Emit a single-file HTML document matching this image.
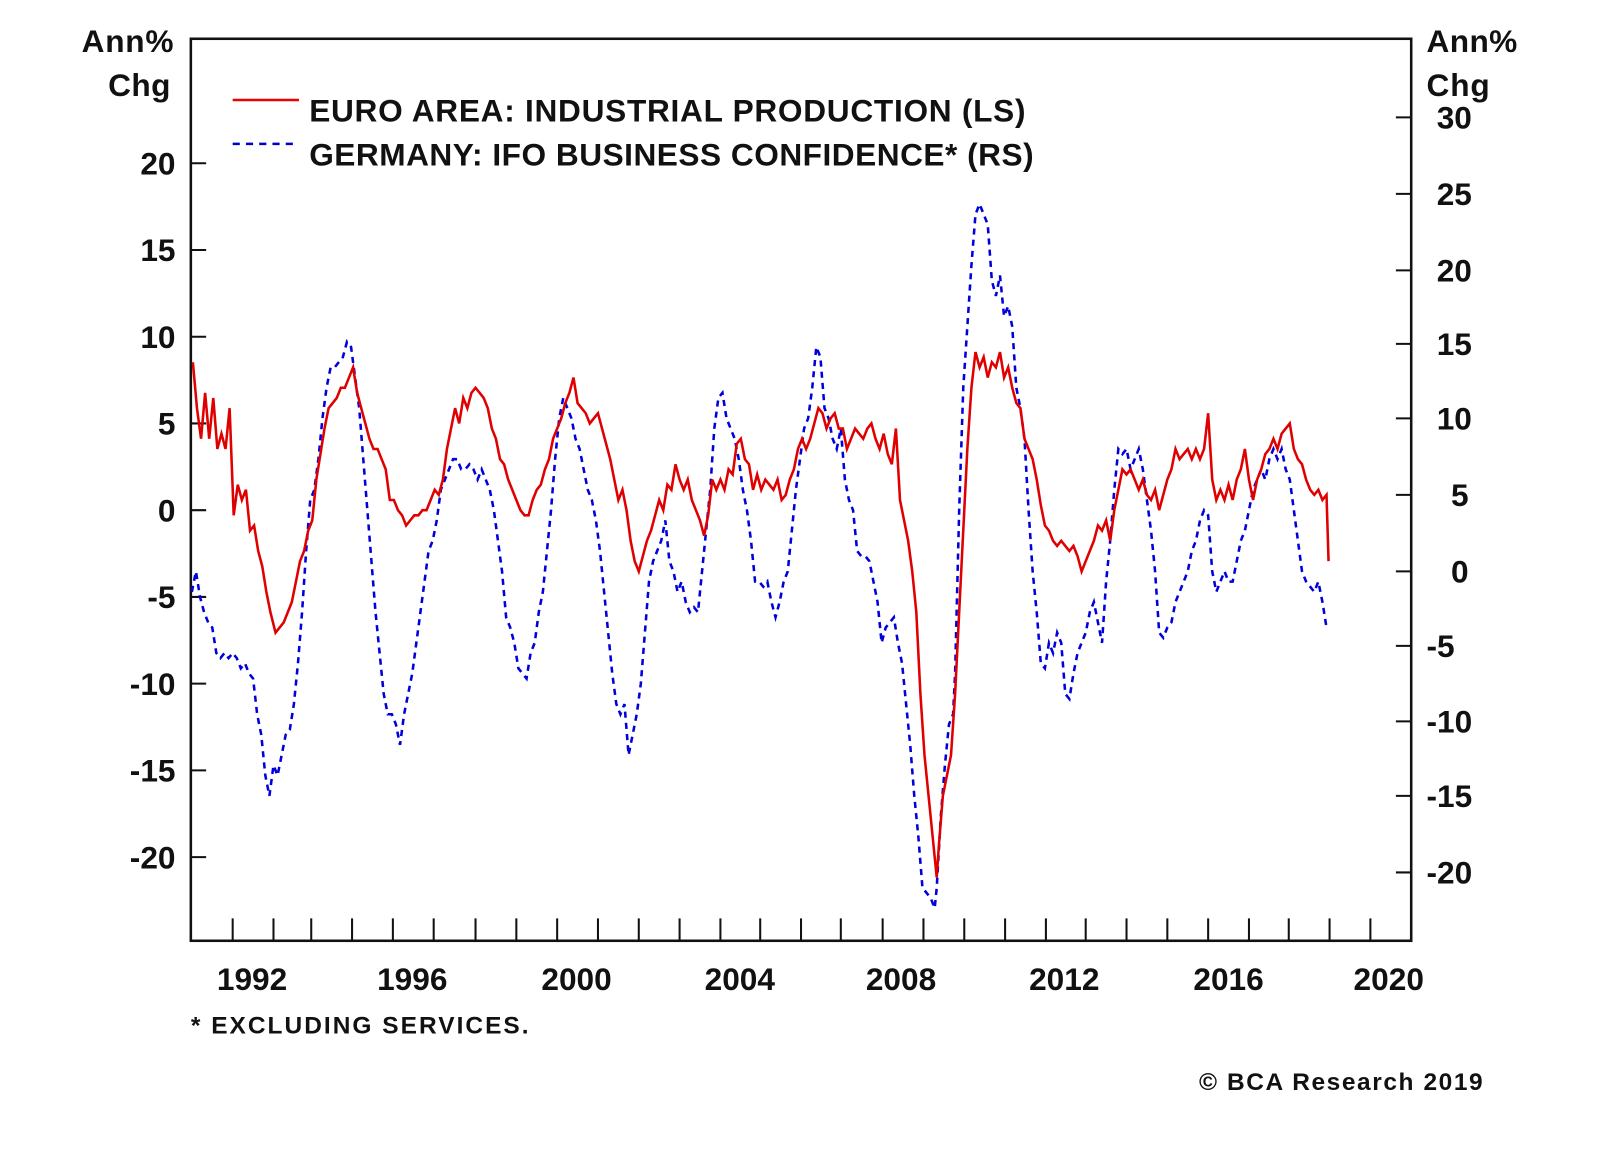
<!DOCTYPE html>
<html><head><meta charset="utf-8"><style>
html,body{margin:0;padding:0;background:#fff;}
svg{display:block;}
text{font-family:"Liberation Sans Narrow","Liberation Sans",sans-serif;font-weight:bold;fill:#111;}
</style></head><body>
<svg width="1600" height="1152" viewBox="0 0 1568 1129" xmlns="http://www.w3.org/2000/svg">
<rect width="1568" height="1129" fill="#fff"/>
<!-- frame -->
<rect x="187" y="38" width="1196" height="884" fill="none" stroke="#111" stroke-width="2.5"/>
<g stroke="#111" stroke-width="2">
<path d="M228 922V900M268 922V900M305 922V900M345 922V900M385 922V900M425 922V900M466 922V900M506 922V900M546 922V900M586 922V900M626 922V900M666 922V900M706 922V900M745 922V900M785 922V900M824 922V900M865 922V900M905 922V900M945 922V900M985 922V900M1025 922V900M1064 922V900M1104 922V900M1144 922V900M1184 922V900M1224 922V900M1263 922V900M1303 922V900M1343 922V900"/>
<path d="M187 160H202M187 245H202M187 330H202M187 415H202M187 500H202M187 585H202M187 670H202M187 755H202M187 840H202"/>
<path d="M1368 115H1383M1368 190H1383M1368 265H1383M1368 337H1383M1368 410H1383M1368 485H1383M1368 560H1383M1368 633H1383M1368 707H1383M1368 780H1383M1368 855H1383"/>
</g>
<g font-size="31" text-anchor="end">
<text x="172" y="171">20</text><text x="172" y="256">15</text><text x="172" y="341">10</text><text x="172" y="426">5</text><text x="172" y="511">0</text><text x="172" y="596">-5</text><text x="172" y="681">-10</text><text x="172" y="766">-15</text><text x="172" y="851">-20</text>
</g>
<g font-size="31">
<text x="1408" y="126">30</text><text x="1408" y="201">25</text><text x="1408" y="276">20</text><text x="1408" y="348">15</text><text x="1408" y="421">10</text><text x="1422" y="496">5</text><text x="1422" y="571">0</text><text x="1398" y="644">-5</text><text x="1398" y="718">-10</text><text x="1398" y="791">-15</text><text x="1398" y="866">-20</text>
<text x="80" y="51" textLength="90">Ann%</text><text x="106" y="94" textLength="61">Chg</text>
<text x="1398" y="51" textLength="89">Ann%</text><text x="1398" y="94" textLength="62">Chg</text>
</g>
<g font-size="31" text-anchor="middle">
<text x="247" y="970">1992</text><text x="404" y="970">1996</text><text x="565" y="970">2000</text><text x="725" y="970">2004</text><text x="883" y="970">2008</text><text x="1043" y="970">2012</text><text x="1204" y="970">2016</text><text x="1361" y="970">2020</text>
</g>
<text x="187" y="1013" font-size="24" textLength="331">* EXCLUDING SERVICES.</text>
<text x="1175" y="1068" font-size="24" textLength="278">© BCA Research 2019</text>
<!-- legend -->
<line x1="228" y1="98" x2="293" y2="98" stroke="#e00" stroke-width="2.5"/>
<line x1="228" y1="141" x2="293" y2="141" stroke="#00c" stroke-width="2.5" stroke-dasharray="7,6"/>
<text x="303" y="119" font-size="31" textLength="702">EURO AREA: INDUSTRIAL PRODUCTION (LS)</text>
<text x="303" y="162" font-size="31" textLength="710">GERMANY: IFO BUSINESS CONFIDENCE* (RS)</text>
<!-- blue -->
<polyline fill="none" stroke="#0000dd" stroke-width="2.5" stroke-dasharray="6,5" points="188,580 192,560 196,585 200,600 204,610 208,615 212,640 216,645 220,640 224,645 228,640 232,645 236,655 240,650 244,660 248,665 252,700 256,720 260,760 264,780 268,750 272,760 276,740 280,720 284,715 288,690 292,650 296,600 300,540 304,490 308,480 312,450 316,410 320,380 324,360 328,360 332,355 336,350 340,335 344,340 348,370 352,400 356,450 360,500 364,550 368,600 372,640 376,680 380,700 384,700 388,710 392,730 396,700 400,680 404,660 408,630 412,600 416,570 420,540 424,530 428,510 432,480 436,470 440,460 444,450 448,450 452,460 456,460 460,455 464,460 468,470 472,460 476,470 480,480 484,500 488,530 492,560 496,605 500,615 504,630 508,655 512,660 516,665 520,640 524,630 528,600 532,580 536,540 540,500 544,450 548,410 552,390 556,400 560,410 564,430 568,440 572,460 576,480 580,490 584,510 588,540 592,580 596,620 600,660 604,690 608,700 612,690 616,740 620,720 624,700 628,670 632,620 636,570 640,550 644,540 648,530 652,510 656,550 660,560 664,580 668,570 672,590 676,600 680,595 684,600 688,560 692,520 696,480 700,420 704,390 708,385 712,410 716,420 720,430 724,450 728,480 732,500 736,530 740,570 744,570 748,575 752,570 756,590 760,605 764,590 768,570 772,560 776,520 780,480 784,450 788,420 792,410 796,380 800,340 804,350 808,400 812,410 816,430 820,440 824,420 828,470 832,490 836,500 840,540 844,545 848,545 852,550 856,570 860,590 864,630 868,615 872,610 876,605 880,630 884,650 888,690 892,730 896,780 900,820 904,870 908,875 912,880 916,890 918,870 922,800 926,750 930,710 934,700 936,660 940,500 944,380 948,320 952,260 956,210 960,200 964,210 968,220 972,275 976,290 980,270 984,310 988,300 992,320 996,380 1000,400 1004,430 1008,500 1012,560 1016,600 1020,650 1024,655 1028,630 1032,640 1036,620 1040,630 1044,680 1048,685 1052,660 1056,640 1060,630 1064,620 1068,600 1072,590 1076,610 1080,630 1084,570 1088,530 1092,480 1096,440 1100,445 1104,440 1108,460 1112,450 1116,440 1120,460 1124,490 1128,520 1132,560 1136,620 1140,625 1144,615 1148,610 1152,590 1156,580 1160,570 1164,560 1168,540 1172,530 1176,510 1180,500 1184,505 1188,560 1192,580 1196,570 1200,560 1204,570 1208,570 1212,550 1216,530 1220,520 1224,500 1228,480 1232,470 1236,460 1240,470 1244,450 1248,440 1252,450 1256,440 1260,460 1264,470 1268,500 1272,530 1276,560 1280,570 1284,575 1288,580 1292,570 1296,590 1300,615"/>
<!-- red -->
<polyline fill="none" stroke="#e00000" stroke-width="2.5" points="189,355 193,400 197,430 201,385 205,430 209,390 213,440 217,425 221,440 225,400 229,505 233,475 237,490 241,480 245,520 249,515 253,540 257,555 261,580 265,600 270,620 274,615 278,610 282,600 286,590 290,570 294,550 298,540 302,520 306,510 310,470 314,445 318,420 322,400 326,395 330,390 334,380 338,380 342,370 346,360 350,385 354,400 358,415 362,430 366,440 370,440 374,450 378,460 382,490 386,490 390,500 394,505 398,515 402,510 406,505 410,505 414,500 418,500 422,490 426,480 430,485 434,470 438,440 442,420 446,400 450,415 454,390 458,400 462,385 466,380 470,385 474,390 478,400 482,420 486,430 490,450 494,455 498,470 502,480 506,490 510,500 514,505 518,505 522,490 526,480 530,475 534,460 538,450 542,430 546,420 550,410 554,395 558,385 562,370 566,395 570,400 574,405 578,415 582,410 586,405 590,420 594,435 598,450 602,470 606,490 610,480 614,500 618,530 622,550 626,560 630,545 634,530 638,520 642,505 646,490 650,500 654,475 658,480 662,455 666,470 670,480 674,470 678,490 682,500 686,510 690,525 694,505 698,470 702,480 706,470 710,480 714,460 718,465 722,435 726,430 730,450 734,455 738,480 742,465 746,480 750,470 754,475 758,480 762,470 766,490 770,485 774,470 778,460 782,440 786,430 790,440 794,430 798,415 802,400 806,405 810,420 814,410 818,405 822,420 826,420 830,440 834,430 838,420 842,425 846,430 850,420 854,415 858,430 862,440 866,425 870,445 874,455 878,420 882,490 886,510 890,530 894,560 898,600 902,680 906,740 910,780 914,820 918,860 920,830 924,780 928,760 932,740 936,680 940,600 944,520 948,440 952,380 956,345 960,360 964,350 968,370 972,355 976,360 980,345 984,370 988,360 992,380 996,395 1000,400 1004,430 1008,440 1012,450 1016,470 1020,495 1024,515 1028,520 1032,530 1036,535 1040,530 1044,535 1048,540 1052,535 1056,545 1060,560 1064,550 1068,540 1072,530 1076,515 1080,520 1084,510 1088,530 1092,500 1096,480 1100,460 1104,465 1108,460 1112,470 1116,480 1120,470 1124,485 1128,490 1132,480 1136,500 1140,485 1144,470 1148,460 1152,440 1156,450 1160,445 1164,440 1168,450 1172,440 1176,450 1180,440 1184,405 1188,470 1192,490 1196,480 1200,490 1204,475 1208,490 1212,470 1216,460 1220,440 1224,470 1228,490 1232,470 1236,460 1240,445 1244,440 1248,430 1252,440 1256,425 1260,420 1264,415 1268,440 1272,450 1276,455 1280,470 1284,480 1288,485 1292,480 1296,490 1300,485 1302,550"/>
</svg>
</body></html>
